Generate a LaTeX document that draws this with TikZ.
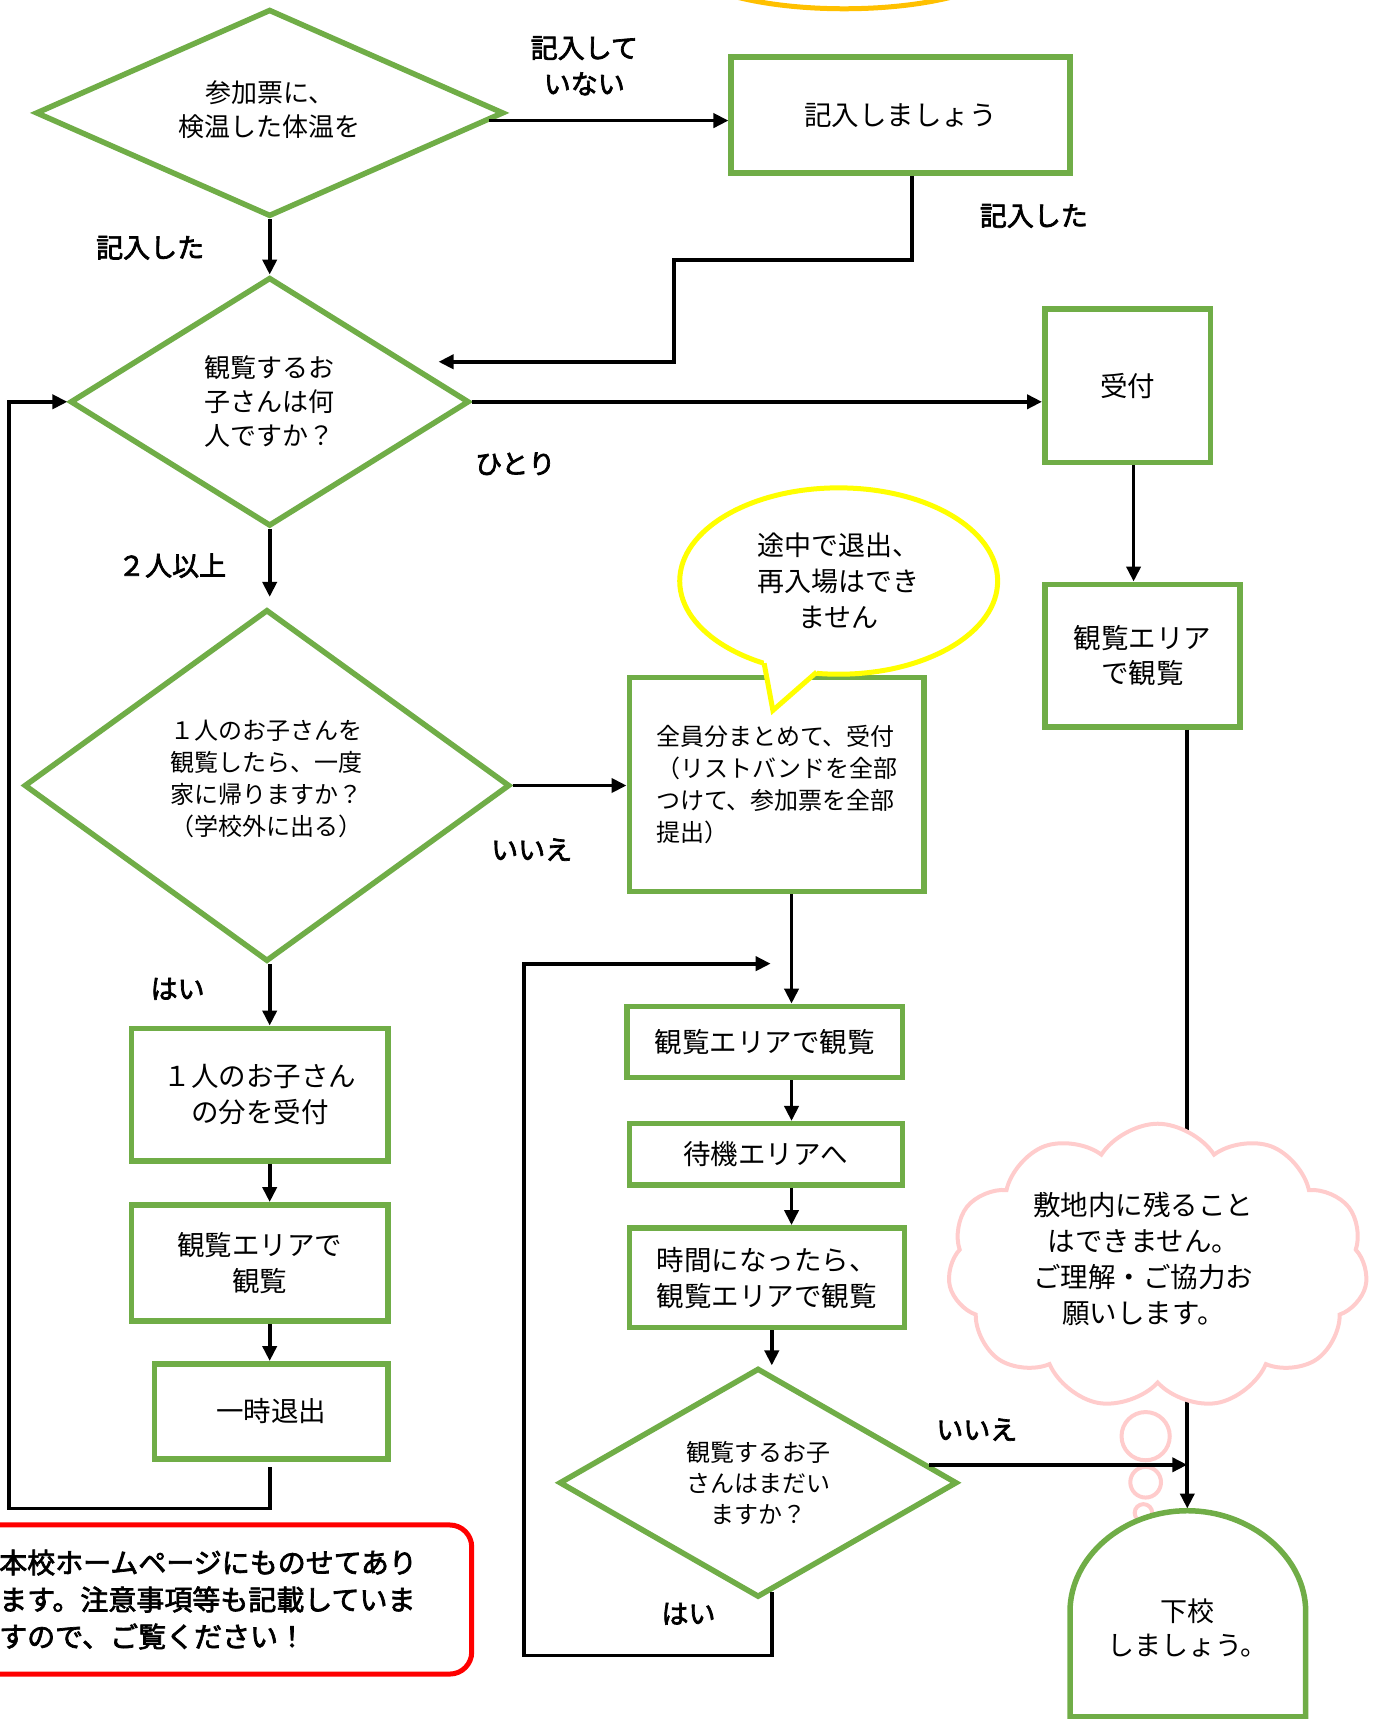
\documentclass[tikz,border=0pt]{standalone}
\usepackage{fontspec}
\setmainfont{Noto Sans CJK JP}
\newfontfamily\medfont[FakeBold=2.5]{Noto Sans CJK JP}
\usetikzlibrary{shapes.geometric,shapes.symbols,arrows.meta,calc}
\definecolor{grn}{HTML}{70AD47}
\definecolor{yel}{HTML}{FFFF00}
\definecolor{pnk}{HTML}{FFCCCC}
\definecolor{org}{HTML}{FFC000}
\definecolor{rd}{HTML}{FF0000}
\newcommand\U{1.0965pt}
\begin{document}
\begin{tikzpicture}[x=1.0965pt,y=-1.0965pt,
  box/.style={draw=grn,line width=5.5pt,fill=white,rectangle,inner sep=0pt,align=center},
  dia/.style={draw=grn,line width=5.5pt,fill=white,diamond,inner sep=0pt,align=center},
  conn/.style={line width=3.8pt},
  arr/.style={conn,-{Triangle[length=15pt,width=14pt]}},
  lbl/.style={inner sep=0pt,align=center,font=\fontsize{27}{36}\medfont},
  fbox/.style={font=\fontsize{27.5}{36}\selectfont},
  fdia/.style={font=\fontsize{26}{34}\selectfont},
  fsm/.style={font=\fontsize{24}{32}\selectfont}
]
\useasboundingbox (0,0) rectangle (1254,1568);
\clip (0,0) rectangle (1254,1568);

% orange arc at top
\draw[org,line width=5pt] (770,-36) ellipse [x radius=150, y radius=44];

% decision diamonds
\node[dia,fdia,aspect=2.26,minimum width=427*\U,minimum height=189*\U] (d1) at (246,103) {参加票に、\\検温した体温を\\[-26pt]};
\node[dia,fdia,aspect=1.6,minimum width=364*\U,minimum height=227*\U] (d2) at (246,366.5) {観覧するお\\子さんは何\\人ですか？};
\node[dia,fsm,aspect=1.38,minimum width=443*\U,minimum height=321*\U] (d3) at (243.5,716.5) {１人のお子さんを\\観覧したら、一度\\家に帰りますか？\\（学校外に出る）\\[-16pt]};
\node[dia,aspect=1.74,font=\fontsize{24}{31}\selectfont,minimum width=363*\U,minimum height=209*\U] (d4) at (691.5,1352.5) {観覧するお子\\さんはまだい\\ますか？};

% process boxes
\node[box,fbox,minimum width=309*\U,minimum height=106*\U] (b1) at (821.5,105) {記入しましょう};
\node[box,fbox,minimum width=151*\U,minimum height=140*\U] (uk) at (1028.5,352) {受付};
\node[box,font=\fontsize{27.5}{35}\selectfont,minimum width=178*\U,minimum height=130*\U] (kn1) at (1042,598) {観覧エリア\\で観覧};
\node[box,fsm,align=left,minimum width=269*\U,minimum height=195*\U] (zen) at (708.5,715.5) {全員分まとめて、受付\\（リストバンドを全部\\つけて、参加票を全部\\提出）};
\node[box,fbox,minimum width=251*\U,minimum height=65*\U] (k2) at (697.5,950.5) {観覧エリアで観覧};
\node[box,fbox,minimum width=249*\U,minimum height=56*\U] (tai) at (698.5,1053) {待機エリアへ};
\node[box,fbox,minimum width=251*\U,minimum height=91*\U] (jik) at (699.5,1165.5) {時間になったら、\\観覧エリアで観覧};
\node[box,fbox,minimum width=234*\U,minimum height=121*\U] (hit) at (237,998.5) {１人のお子さん\\の分を受付};
\node[box,fbox,minimum width=234*\U,minimum height=106*\U] (k3) at (237,1152) {観覧エリアで\\観覧};
\node[box,fbox,minimum width=213*\U,minimum height=87*\U] (ich) at (247.5,1287.5) {一時退出};

% helper coordinates
\coordinate (cL) at (246,0);
\coordinate (cM) at (722,0);
\coordinate (cN) at (704,0);
\coordinate (cR) at (1083,0);
\coordinate (cU) at (1034,0);
\coordinate (cT) at (832,0);
\coordinate (r1) at (615,237);
\coordinate (r2) at (400,330);
\coordinate (lp) at (8,1376);
\coordinate (lc) at (478,1510);
\coordinate (lend) at (703,879);
\coordinate (gtop) at (1083,1376);

% connectors
\draw[arr] (d1.-2) -- (d1.-2 -| b1.west);
\draw[arr] (b1.south -| cT) |- (r1) |- (r2);
\draw[arr] (d1.south) -- (d2.north);
\draw[arr] (d2.east) -- (d2.east -| uk.west);
\draw[arr] (uk.south -| cU) -- (kn1.north -| cU);
\draw[arr] (d2.south) -- ($(d2.south |- d3.north)+(0,-9)$);
\draw[arr] (d3.east) -- (d3.east -| zen.west);
\draw[arr] (d3.south -| cL) -- (hit.north -| cL);
\draw[arr] (hit.south -| cL) -- (k3.north -| cL);
\draw[arr] (k3.south -| cL) -- (ich.north -| cL);
\draw[arr] ($(ich.south -| cL)+(0,5)$) |- (lp) |- (d2.west);
\draw[arr] (zen.south -| cM) -- (k2.north -| cM);
\draw[arr] (k2.south -| cM) -- (tai.north -| cM);
\draw[arr] (tai.south -| cM) -- (jik.north -| cM);
\draw[arr] (jik.south -| cN) -- (d4.north -| cN);
\draw[arr] ($(d4.south -| cN)+(0,-7)$) |- (lc) |- (lend);
\draw[arr] (kn1.south -| cR) -- (gtop);

% labels
\node[lbl] (l1) at (533,60) {記入して\\いない};
\node[lbl] (l2) at (943,197) {記入した};
\node[lbl] (l3) at (137,226) {記入した};
\node[lbl] (l4) at (470,423) {ひとり};
\node[lbl] (l5) at (157,516) {２人以上};
\node[lbl] (l6) at (485,775) {いいえ};
\node[lbl] (l7) at (162,902) {はい};
\node[lbl] (l8) at (628,1472) {はい};
\node[lbl] (l9) at (891,1304) {いいえ};

% speech bubble
\node[ellipse,draw=yel,line width=5pt,fill=white,inner sep=0pt,align=center,
  minimum width=290*\U,minimum height=170*\U,font=\fontsize{27}{36}\selectfont] (bub) at (765,530) {途中で退出、\\再入場はでき\\ません};
\fill[white] (697,597) -- (697,606) -- (705,648) -- (745,614) -- (745,604) -- cycle;
\draw[yel,line width=5pt,line join=miter] (697,605) -- (705,648) -- (745,613);

% cloud
\node[cloud,cloud puffs=11,cloud puff arc=115,cloud ignores aspect,draw=pnk,line width=4pt,fill=white,
  inner sep=0pt,minimum width=383*\U,minimum height=260*\U] (cld) at (1056,1155) {};
\node[inner sep=0pt,align=center,font=\fontsize{27.5}{36}\selectfont] (cldt) at (1043,1148) {敷地内に残ること\\はできません。\\ご理解・ご協力お\\願いします。};
\draw[pnk,line width=4pt,fill=white] (1045,1310) circle[radius=22];
\draw[pnk,line width=4pt,fill=white] (1045,1352) circle[radius=14];
\draw[pnk,line width=4pt,fill=white] (1043,1380) circle[radius=8];

\draw[arr] (d4.6) -- (d4.6 -| cR);

% goal shape
\draw[grn,line width=5.5pt,fill=white] (976,1566) -- (976,1470) .. controls (976,1420) and (1025,1378) .. (1083,1378) .. controls (1141,1378) and (1191,1420) .. (1191,1470) -- (1191,1566) -- cycle;
\node[inner sep=0pt,align=center,font=\fontsize{27}{35}\selectfont] (gk) at (1083,1485) {下校\\しましょう。};

% note box
\node[draw=rd,line width=5pt,rounded corners=22pt,fill=white,anchor=west,minimum height=136*\U,
  text width=404*\U,inner xsep=27*\U,inner ysep=0pt,align=left,font=\fontsize{28}{37}\medfont] (note) at (-30,1459) {本校ホームページにものせてあり\\ます。注意事項等も記載していま\\すので、ご覧ください！};
\end{tikzpicture}
\end{document}
